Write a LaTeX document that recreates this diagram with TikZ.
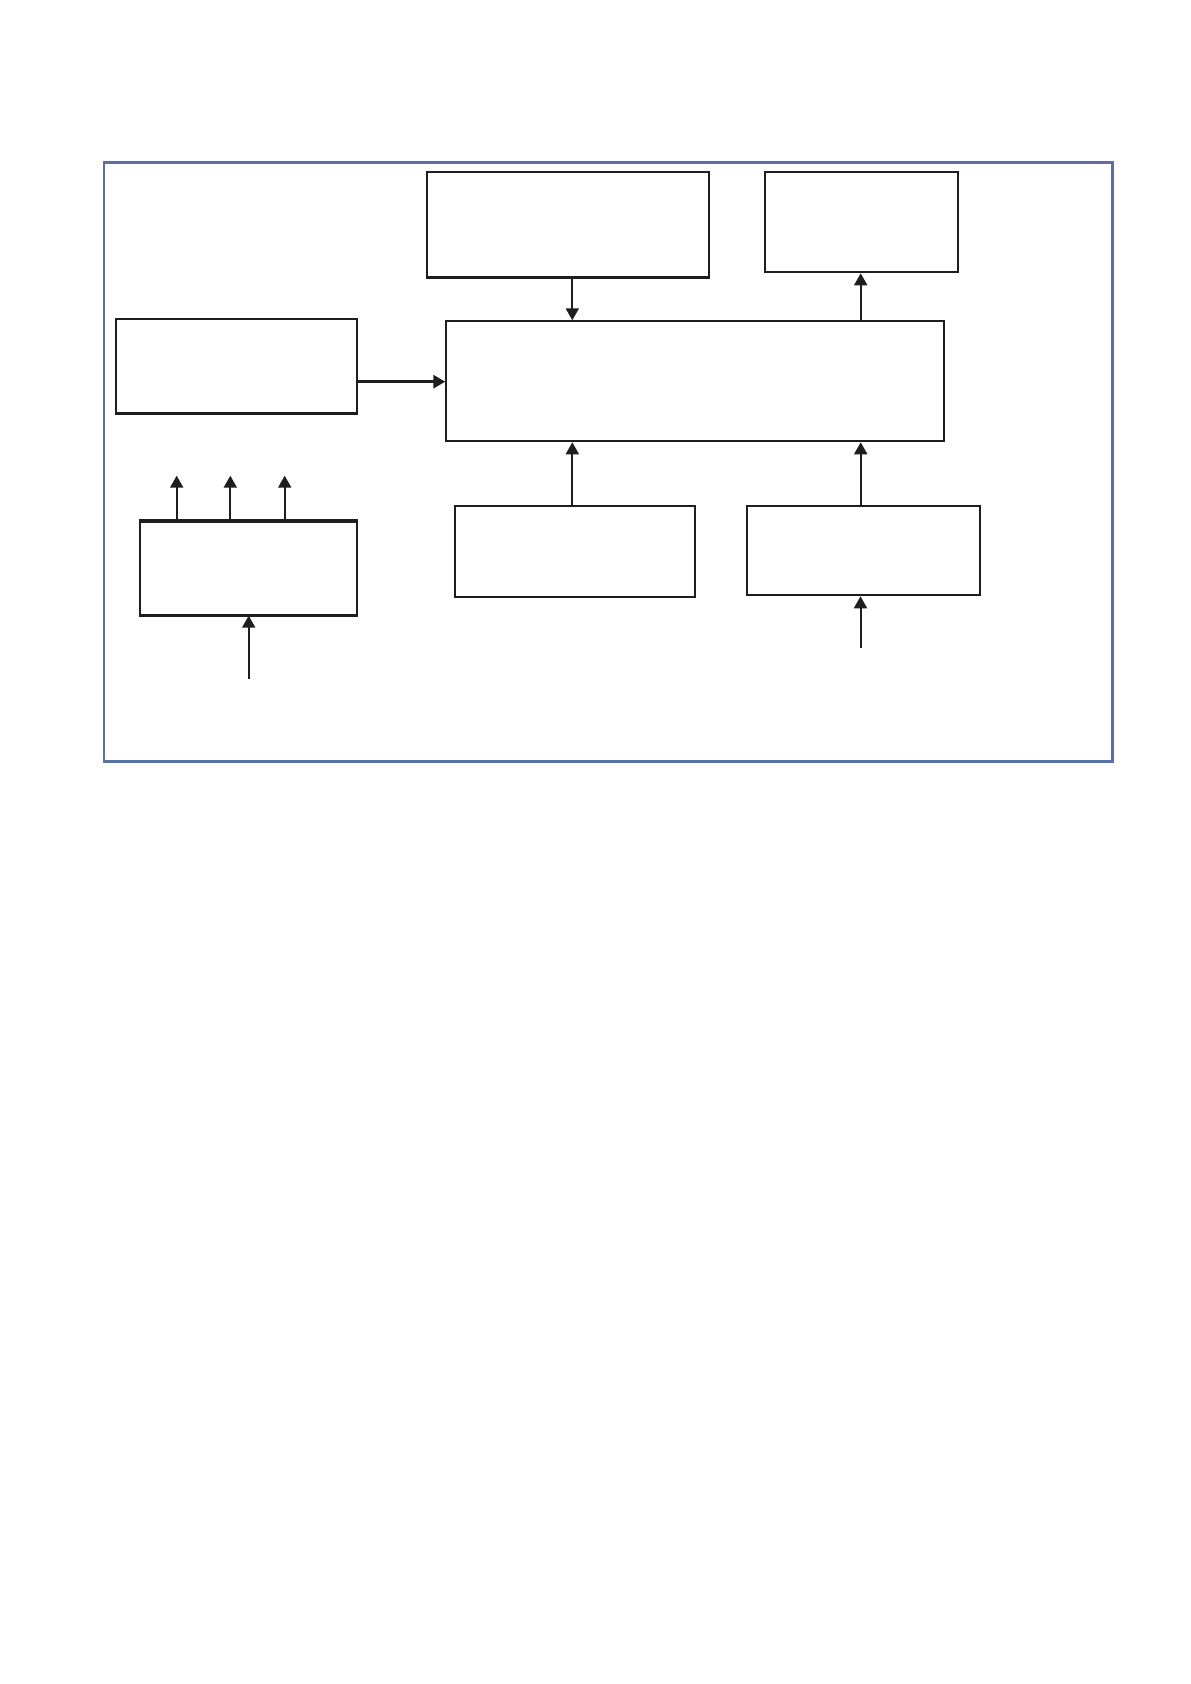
\documentclass[tikz,border=0pt]{standalone}
\usetikzlibrary{arrows.meta}
\definecolor{framblue}{HTML}{5A6FA8}
\definecolor{inkc}{HTML}{1E1E1E}
\begin{document}
\begin{tikzpicture}[x=0.5pt,y=-0.5pt,
  boxn/.style={draw=inkc,line width=1pt,rectangle,inner sep=0pt,fill=white},
  arr/.style={draw=inkc,line width=1pt,-{Triangle[length=6pt,width=6.5pt]}},
  thickbottom/.style={draw=inkc,line width=1.5pt}]
\useasboundingbox (0,0) rectangle (1190,1684);
\fill[white] (0,0) rectangle (1190,1684);
% outer frame
\node[draw=framblue,line width=1.1pt,inner sep=0pt,minimum width=504.2pt,minimum height=299.5pt] (frame) at (608.3,462) {};
% boxes
\node[boxn,minimum width=140.7pt,minimum height=52.35pt] (A) at (568,224.6) {};
\node[boxn,minimum width=96.8pt,minimum height=50pt] (B) at (861.5,222.3) {};
\node[boxn,minimum width=249pt,minimum height=60pt] (M) at (695.3,381.3) {};
\node[boxn,minimum width=120.5pt,minimum height=47pt] (L) at (236.2,366) {};
\node[boxn,minimum width=108.2pt,minimum height=46.5pt] (LL) at (248.5,568.2) {};
\node[boxn,minimum width=120pt,minimum height=45.5pt] (BM) at (575.3,551.8) {};
\node[boxn,minimum width=116.8pt,minimum height=44.5pt] (BR) at (863.5,550.8) {};
% slightly heavier edges as in the reference
\draw[thickbottom] (A.south west) -- (A.south east);
\draw[thickbottom] (L.south west) -- (L.south east);
\draw[thickbottom] (LL.north west) -- (LL.north east);
\draw[thickbottom] (LL.south west) -- (LL.south east);
% helper coordinates
\coordinate (xa) at (572.3,0);
\coordinate (xb) at (860.7,0);
\coordinate (ya) at (0,381.7);
\coordinate (x1) at (176.7,0);
\coordinate (x2) at (230.3,0);
\coordinate (x3) at (284.7,0);
\coordinate (xl) at (248.7,0);
\coordinate (t1) at (176.7,475.7);
\coordinate (t2) at (230.3,475.7);
\coordinate (t3) at (284.7,475.7);
\coordinate (inL) at (248.7,678.7);
\coordinate (inR) at (860.5,648.3);
% connectors
\draw[arr] (A.south -| xa) -- (M.north -| xa);
\draw[arr] (M.north -| xb) -- (B.south -| xb);
\draw[arr,line width=1.5pt] (L.east |- ya) -- (M.west |- ya);
\draw[arr] (BM.north -| xa) -- (M.south -| xa);
\draw[arr] (BR.north -| xb) -- (M.south -| xb);
\draw[arr] (inR) -- (BR.south -| inR);
\draw[arr] (LL.north -| x1) -- (t1);
\draw[arr] (LL.north -| x2) -- (t2);
\draw[arr] (LL.north -| x3) -- (t3);
\draw[arr] (inL) -- (LL.south -| xl);
\end{tikzpicture}
\end{document}
